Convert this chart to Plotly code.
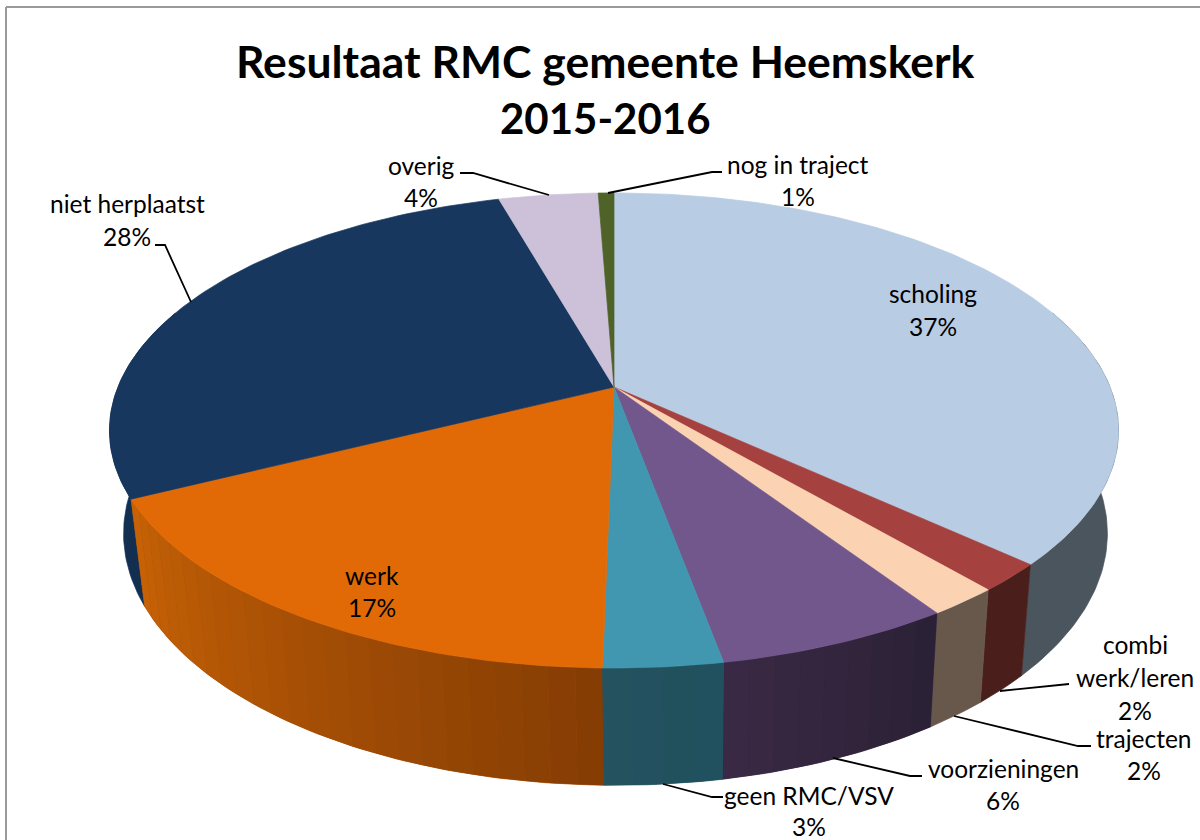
import math
import plotly.graph_objects as go

# ---- data ----
categories = ["scholing", "combi werk/leren", "trajecten", "voorzieningen", "geen RMC/VSV",
              "werk", "niet herplaatst", "overig", "nog in traject"]
values = [36.85, 1.9, 1.95, 6.4, 3.2, 17.3, 28.0, 3.8, 0.6]
pct_labels = ["37%", "2%", "2%", "6%", "3%", "17%", "28%", "4%", "1%"]
top_colors = ["#b8cce4", "#a5423f", "#fbd3b3", "#72578d", "#4197b0",
              "#e16a06", "#17375e", "#ccc1d9", "#4f6228"]
wall_left = ["#4b555e", "#4a1f1b", "#68584b", "#3b2a45", "#25525f",
             "#c76206", "#122f52", "#5c5468", "#2c3616"]
wall_right = ["#4b555e", "#4a1f1b", "#68584b", "#2a2035", "#20505e",
              "#843c04", "#122f52", "#5c5468", "#2c3616"]
title_lines = ["Resultaat RMC gemeente Heemskerk", "2015-2016"]

# ---- projection of the tilted pie ----
CX, CY = 614, 387
A, B, K = 229.6, 496, 0.183
SX, SY, DROP, SHIFT = 0.975, 1.06, 100.4, 1.5


def top_pt(theta):
    u, v = math.sin(theta), math.cos(theta)
    w = 1 + K * v
    return CX + B * u / w, CY - A * v / w


def bot_pt(theta):
    x, y = top_pt(theta)
    return CX + SHIFT + SX * (x - CX), CY + DROP + SY * (y - CY)


def mix(c1, c2, t):
    a = [int(c1[i:i + 2], 16) for i in (1, 3, 5)]
    b = [int(c2[i:i + 2], 16) for i in (1, 3, 5)]
    return "rgb(%d,%d,%d)" % tuple(round(p + (q - p) * t) for p, q in zip(a, b))


def poly(xs, ys, color, lw=0.7):
    return go.Scatter(x=xs + xs[:1], y=ys + ys[:1], mode="lines", fill="toself",
                      fillcolor=color, line=dict(color=color, width=lw),
                      hoverinfo="skip", showlegend=False)


def wall(t0, t1, color, lw=0.0):
    n = max(1, int((t1 - t0) / math.radians(1)))
    ts = [t0 + (t1 - t0) * j / n for j in range(n + 1)]
    tp = [top_pt(t) for t in ts]
    bp = [bot_pt(t) for t in reversed(ts)]
    pts = tp + bp
    return poly([q[0] for q in pts], [q[1] for q in pts], color, lw)


total = sum(values)
edges = [0.0]
for val in values:
    edges.append(edges[-1] + val / total * 2 * math.pi)

fig = go.Figure()

# walls: the visible part of the rim, back slices first
FRONT0, FRONT1 = math.radians(70), math.radians(290)
order = sorted(range(len(values)), key=lambda i: -math.cos((edges[i] + edges[i + 1]) / 2))
for i in order:
    a0, a1 = max(edges[i], FRONT0), min(edges[i + 1], FRONT1)
    if a1 <= a0:
        continue
    base = mix(wall_left[i], wall_right[i], 0.5)
    fig.add_trace(wall(a0, a1, base, 0.7))
    if wall_left[i] != wall_right[i]:
        n = max(3, int((a1 - a0) / math.radians(2.5)))
        for j in range(n):
            t0 = a0 + (a1 - a0) * j / n
            t1 = a0 + (a1 - a0) * (j + 1) / n
            fig.add_trace(wall(t0, t1, mix(wall_right[i], wall_left[i], (j + 0.5) / n)))

# top faces
for i, col in enumerate(top_colors):
    a0, a1 = edges[i], edges[i + 1]
    n = max(4, int((a1 - a0) / math.radians(1)))
    pts = [top_pt(a0 + (a1 - a0) * j / n) for j in range(n + 1)]
    fig.add_trace(poly([CX] + [q[0] for q in pts], [CY] + [q[1] for q in pts], col))

# leader lines
leader_paths = [
    [(1000, 691), (1068, 684), (1069, 684)],
    [(954, 716), (1078, 746), (1091, 746)],
    [(833, 758), (910, 776), (922, 776)],
    [(663, 784), (712, 797), (723, 797)],
    [(191, 302), (165, 245), (155, 245)],
    [(549, 195), (473, 173), (460, 173)],
    [(608, 193), (712, 172), (722, 172)],
]
for path in leader_paths:
    fig.add_trace(go.Scatter(x=[p[0] for p in path], y=[p[1] for p in path], mode="lines",
                             line=dict(color="#000000", width=1.8),
                             hoverinfo="skip", showlegend=False))

# label centres
label_pos = {
    "scholing": (933, 293, 326),
    "combi werk/leren": (1135, None, None),
    "trajecten": (1144, 738, 770),
    "voorzieningen": (1003, 768, 800),
    "geen RMC/VSV": (809, 795, 826),
    "werk": (372, 575, 607),
    "niet herplaatst": (127, 203, 236),
    "overig": (421, 165, 197),
    "nog in traject": (798, 164, 196),
}
FS = 24.5
ann = []


def text(x, y, s, size=FS, bold=False):
    ann.append(dict(x=x, y=y, xref="x", yref="y", text=s, showarrow=False,
                    xanchor="center", yanchor="middle",
                    font=dict(family="Lato, Carlito, sans-serif", size=size, color="#000000",
                              weight="bold" if bold else "normal")))


for name, pct in zip(categories, pct_labels):
    x, y1, y2 = label_pos[name]
    if y1 is None:
        text(x, 644, "combi")
        text(x, 677, "werk/leren")
        text(x, 710, pct)
    else:
        text(x, y1, name)
        text(x, y2, pct)

text(605, 60, title_lines[0], size=44.5, bold=True)
text(605, 118, title_lines[1], size=42, bold=True)

fig.update_layout(
    width=1200, height=840, margin=dict(l=0, r=0, t=0, b=0),
    paper_bgcolor="white", plot_bgcolor="white", annotations=ann,
    xaxis=dict(range=[0, 1200], visible=False, fixedrange=True),
    yaxis=dict(range=[840, 0], visible=False, fixedrange=True),
    shapes=[dict(type="line", xref="x", yref="y", x0=6, x1=1200, y0=7, y1=7,
                 line=dict(color="#9a9a9a", width=2)),
            dict(type="line", xref="x", yref="y", x0=6, x1=6, y0=7, y1=840,
                 line=dict(color="#9a9a9a", width=2))],
)
fig.write_html("out.html", config={"displayModeBar": False},
               post_script="document.body.style.margin='0';document.documentElement.style.overflow='hidden';")
